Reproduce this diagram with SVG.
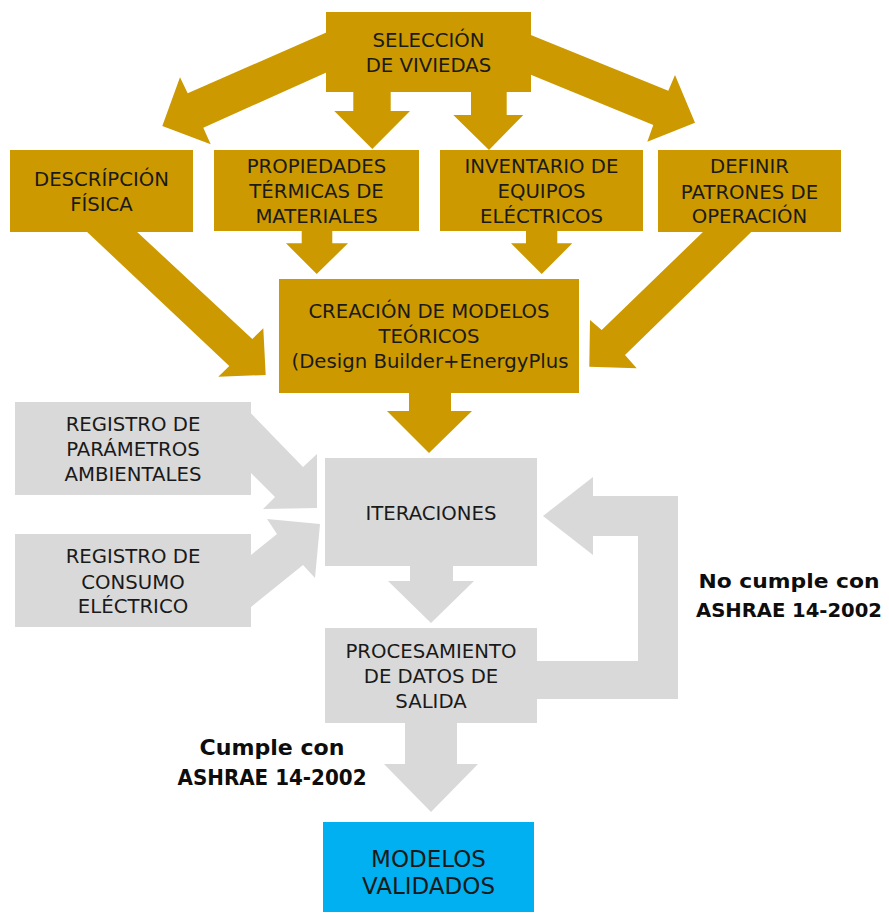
<svg xmlns="http://www.w3.org/2000/svg" width="889" height="913" viewBox="0 0 889 913">
<style>
.gold{fill:#CC9900}
.gray{fill:#D9D9D9}
.blue{fill:#00B0F0}
.t{font-family:"DejaVu Sans","Liberation Sans",sans-serif;font-size:19.7px;fill:#1a1a1a;text-anchor:middle}
.m{font-size:23px}
.b{font-family:"DejaVu Sans","Liberation Sans",sans-serif;font-size:21.5px;font-weight:bold;fill:#0d0d0d;text-anchor:middle}
.r{font-size:20px}
</style>
<rect width="889" height="913" fill="#ffffff"/>
<g id="connectors">
  <polygon class="gold" points="328,31.7 187.7,93.3 180,77.3 162.3,126 210.7,144.3 203.3,127.7 328,71.7"/>
  <polygon class="gold" points="529,34.3 668.3,90.7 675,75 695,122.7 647.3,141.7 653.3,125 529,74"/>
  <polygon class="gold" points="353.3,90 390.7,90 390.7,111 410,111 372.3,149 334.3,111 353.3,111"/>
  <polygon class="gold" points="471,90 506.7,90 506.7,115 523.3,115 489,150 453.3,115 471,115"/>
  <polygon class="gold" points="85,230 135,230 252.3,339 263.3,328.3 265.7,375 218.3,376.7 229.3,366"/>
  <polygon class="gold" points="301.7,229 332.3,229 332.3,243.3 348,243.3 316.7,274 286,243.3 301.7,243.3"/>
  <polygon class="gold" points="526,229 557.3,229 557.3,243.3 572.3,243.3 541.7,274 511,243.3 526,243.3"/>
  <polygon class="gold" points="705,230 753.3,230 625,355 636.7,368.3 589.3,366.7 590,320 601.7,330"/>
  <polygon class="gold" points="409,391 451,391 451,411 472,411 429,453 387,411 409,411"/>
  <polygon class="gray" points="240,402 303,467 317,454 317,508 263,509 275,497 230,452"/>
  <polygon class="gray" points="230,572 277,534 267,519 320,524 315,578 303,565 230,624"/>
  <polygon class="gray" points="410,564 453,564 453,581 474,581 431,623 388,581 410,581"/>
  <polygon class="gray" points="535,661 638,661 638,536 593,536 593,555 543,516 593,477 593,496 678,496 678,699 535,699"/>
  <polygon class="gray" points="405,721 457,721 457,764 478,764 431,812 384,764 405,764"/>
  <text class="b r" x="789" y="588" textLength="181" lengthAdjust="spacingAndGlyphs">No cumple con</text>
  <text class="b r" x="789" y="617" textLength="186" lengthAdjust="spacingAndGlyphs">ASHRAE 14-2002</text>
  <text class="b" x="272" y="755" textLength="145" lengthAdjust="spacingAndGlyphs">Cumple con</text>
  <text class="b" x="272" y="785" textLength="189" lengthAdjust="spacingAndGlyphs">ASHRAE 14-2002</text>
</g>
<g id="seleccion">
  <rect class="gold" x="326" y="12" width="205" height="80"/>
  <text class="t" x="428.5" y="46.5">SELECCIÓN</text>
  <text class="t" x="428.5" y="71.5">DE VIVIEDAS</text>
</g>
<g id="descripcion">
  <rect class="gold" x="10" y="150" width="183" height="82"/>
  <text class="t" x="101.5" y="186">DESCRÍPCIÓN</text>
  <text class="t" x="101.5" y="211">FÍSICA</text>
</g>
<g id="propiedades">
  <rect class="gold" x="214" y="150" width="205" height="81"/>
  <text class="t" x="316.5" y="173">PROPIEDADES</text>
  <text class="t" x="316.5" y="198">TÉRMICAS DE</text>
  <text class="t" x="316.5" y="223">MATERIALES</text>
</g>
<g id="inventario">
  <rect class="gold" x="440" y="150" width="203" height="81"/>
  <text class="t" x="541.5" y="173">INVENTARIO DE</text>
  <text class="t" x="541.5" y="198">EQUIPOS</text>
  <text class="t" x="541.5" y="223">ELÉCTRICOS</text>
</g>
<g id="definir">
  <rect class="gold" x="658" y="150" width="183" height="82"/>
  <text class="t" x="749.5" y="173.3">DEFINIR</text>
  <text class="t" x="749.5" y="198.5">PATRONES DE</text>
  <text class="t" x="749.5" y="223.3">OPERACIÓN</text>
</g>
<g id="creacion">
  <rect class="gold" x="279" y="279" width="300" height="114"/>
  <text class="t" x="429" y="318.3">CREACIÓN DE MODELOS</text>
  <text class="t" x="429" y="343.3">TEÓRICOS</text>
  <text class="t" x="430" y="368.3">(Design Builder+EnergyPlus</text>
</g>
<g id="registro-parametros">
  <rect class="gray" x="15" y="402" width="236" height="93"/>
  <text class="t" x="133" y="430.7">REGISTRO DE</text>
  <text class="t" x="133" y="455.7">PARÁMETROS</text>
  <text class="t" x="133" y="480.7">AMBIENTALES</text>
</g>
<g id="registro-consumo">
  <rect class="gray" x="15" y="534" width="236" height="93"/>
  <text class="t" x="133" y="563.3">REGISTRO DE</text>
  <text class="t" x="133" y="588.5">CONSUMO</text>
  <text class="t" x="133" y="613.3">ELÉCTRICO</text>
</g>
<g id="iteraciones">
  <rect class="gray" x="325" y="458" width="212" height="108"/>
  <text class="t" x="431" y="520">ITERACIONES</text>
</g>
<g id="procesamiento">
  <rect class="gray" x="325" y="628" width="212" height="95"/>
  <text class="t" x="431" y="658.3">PROCESAMIENTO</text>
  <text class="t" x="431" y="683.3">DE DATOS DE</text>
  <text class="t" x="431" y="708.3">SALIDA</text>
</g>
<g id="modelos-validados">
  <rect class="blue" x="323" y="822" width="211" height="90"/>
  <text class="t m" x="428.5" y="867">MODELOS</text>
  <text class="t m" x="428.5" y="894">VALIDADOS</text>
</g>
</svg>
